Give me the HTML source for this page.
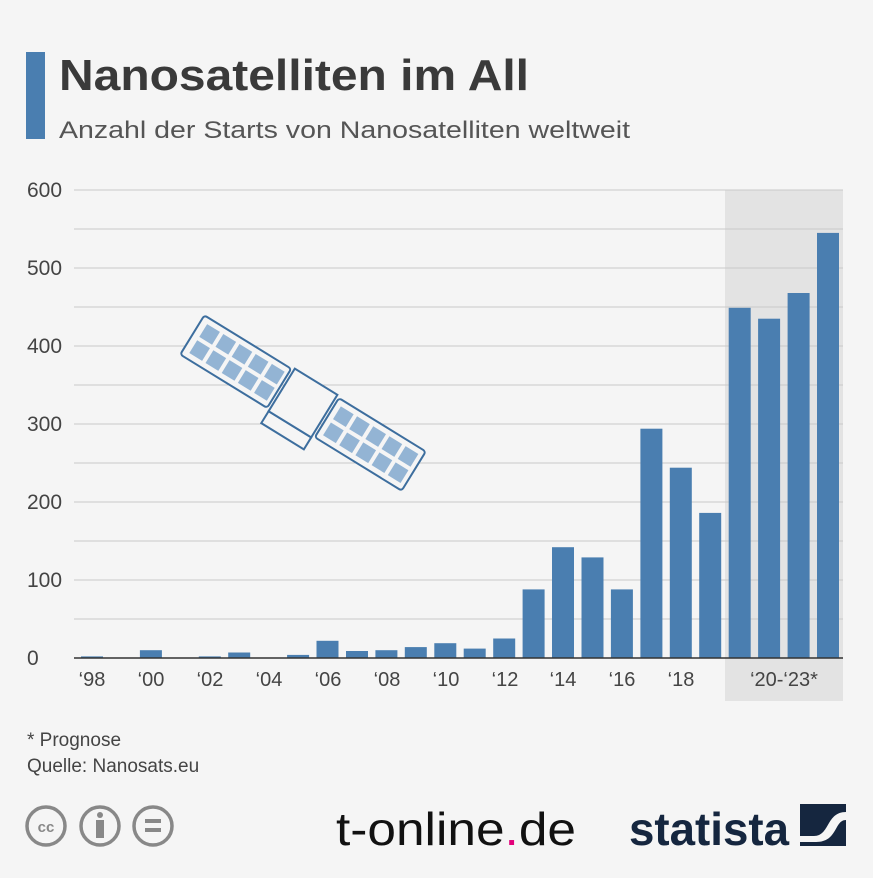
<!DOCTYPE html>
<html><head><meta charset="utf-8"><style>
body{margin:0;width:873px;height:873px;background:#f5f5f5;font-family:"Liberation Sans",sans-serif;overflow:hidden}
</style></head><body>
<svg width="873" height="873" viewBox="0 0 873 873" xmlns="http://www.w3.org/2000/svg" font-family="Liberation Sans, sans-serif">
<rect width="873" height="873" fill="#f5f5f5"/>
<rect x="26" y="52" width="19" height="87" fill="#4a7eb0"/>
<text x="59" y="90" font-size="44" font-weight="bold" fill="#3a3a3a" textLength="470" lengthAdjust="spacingAndGlyphs">Nanosatelliten im All</text>
<text x="59" y="138" font-size="24" fill="#555" textLength="571" lengthAdjust="spacingAndGlyphs">Anzahl der Starts von Nanosatelliten weltweit</text>
<rect x="725" y="190" width="118" height="511" fill="#e3e3e3"/>
<g stroke="#c9c9c9" stroke-width="1">
<line x1="74" x2="843" y1="190" y2="190"/><line x1="74" x2="843" y1="229" y2="229"/>
<line x1="74" x2="843" y1="268" y2="268"/><line x1="74" x2="843" y1="307" y2="307"/>
<line x1="74" x2="843" y1="346" y2="346"/><line x1="74" x2="843" y1="385" y2="385"/>
<line x1="74" x2="843" y1="424" y2="424"/><line x1="74" x2="843" y1="463" y2="463"/>
<line x1="74" x2="843" y1="502" y2="502"/><line x1="74" x2="843" y1="541" y2="541"/>
<line x1="74" x2="843" y1="580" y2="580"/><line x1="74" x2="843" y1="619" y2="619"/>
</g>
<g font-size="21" fill="#444" text-anchor="start">
<text x="27" y="197">600</text><text x="27" y="275">500</text><text x="27" y="353">400</text>
<text x="27" y="431">300</text><text x="27" y="509">200</text><text x="27" y="587">100</text><text x="27" y="665">0</text>
</g>
<g fill="#4a7eb0" id="bars"></g>
<line x1="74" x2="843" y1="658" y2="658" stroke="#333" stroke-width="1.5"/>
<g font-size="20" fill="#444" text-anchor="middle">
<text x="92" y="686">‘98</text><text x="151" y="686">‘00</text><text x="210" y="686">‘02</text>
<text x="269" y="686">‘04</text><text x="328" y="686">‘06</text><text x="387" y="686">‘08</text>
<text x="446" y="686">‘10</text><text x="505" y="686">‘12</text><text x="563" y="686">‘14</text>
<text x="622" y="686">‘16</text><text x="681" y="686">‘18</text><text x="784" y="686">‘20-‘23*</text>
</g>
<g transform="rotate(31.6 303 403)" stroke="#3d6e9e" stroke-width="2" fill="#f5f5f5">
<rect x="173" y="380" width="102" height="46" rx="3"/>
<rect x="331" y="380" width="102" height="46" rx="3"/>
<polygon points="278,428 328,428 328,442 278,442" />
<rect x="278" y="378" width="50" height="50"/>
<g fill="#93b4d4" stroke="none">
<rect x="180" y="386" width="15" height="15"/><rect x="199" y="386" width="15" height="15"/><rect x="218" y="386" width="15" height="15"/><rect x="237" y="386" width="15" height="15"/><rect x="256" y="386" width="15" height="15"/>
<rect x="180" y="405" width="15" height="15"/><rect x="199" y="405" width="15" height="15"/><rect x="218" y="405" width="15" height="15"/><rect x="237" y="405" width="15" height="15"/><rect x="256" y="405" width="15" height="15"/>
<rect x="337" y="386" width="15" height="15"/><rect x="356" y="386" width="15" height="15"/><rect x="375" y="386" width="15" height="15"/><rect x="394" y="386" width="15" height="15"/><rect x="413" y="386" width="15" height="15"/>
<rect x="337" y="405" width="15" height="15"/><rect x="356" y="405" width="15" height="15"/><rect x="375" y="405" width="15" height="15"/><rect x="394" y="405" width="15" height="15"/><rect x="413" y="405" width="15" height="15"/>
</g>
</g>
<text x="27" y="746" font-size="19" fill="#444">* Prognose</text>
<text x="27" y="772" font-size="19" fill="#444">Quelle: Nanosats.eu</text>
<g stroke="#888" stroke-width="3.5" fill="none">
<circle cx="46" cy="826" r="19"/><circle cx="100" cy="826" r="19"/><circle cx="153" cy="826" r="19"/>
</g>
<text x="46" y="832" font-size="15" font-weight="bold" fill="#888" text-anchor="middle">cc</text>
<circle cx="100" cy="815" r="3" fill="#888"/><rect x="96" y="820" width="8" height="18" fill="#888"/>
<rect x="145" y="819" width="16" height="4" fill="#888"/><rect x="145" y="828" width="16" height="4" fill="#888"/>
<text x="336" y="845" font-size="46" fill="#111" textLength="240" lengthAdjust="spacingAndGlyphs">t-online<tspan fill="#e2007a">.</tspan>de</text>
<text x="629" y="845" font-size="46" font-weight="bold" fill="#15263f" textLength="160" lengthAdjust="spacingAndGlyphs">statista</text>
<rect x="800" y="804" width="46" height="42" fill="#15263f"/>
<path d="M800 836 L814 836 C830 836 826 812 846 812 L846 820 C834 820 838 842 816 842 L800 842 Z" fill="#f5f5f5"/>
</svg>
<script>
var v=[2,0,10,0,2,7,0,4,22,9,10,14,19,12,25,88,142,129,88,294,244,186,449,435,468,545];
var g=document.getElementById('bars'),s='';
for(var i=0;i<v.length;i++){var x=92+i*29.44-11,h=v[i]*0.78;if(h>0)s+='<rect x="'+x.toFixed(1)+'" y="'+(658-h).toFixed(1)+'" width="22" height="'+h.toFixed(1)+'"/>';}
g.innerHTML=s;
</script>
</body></html>
